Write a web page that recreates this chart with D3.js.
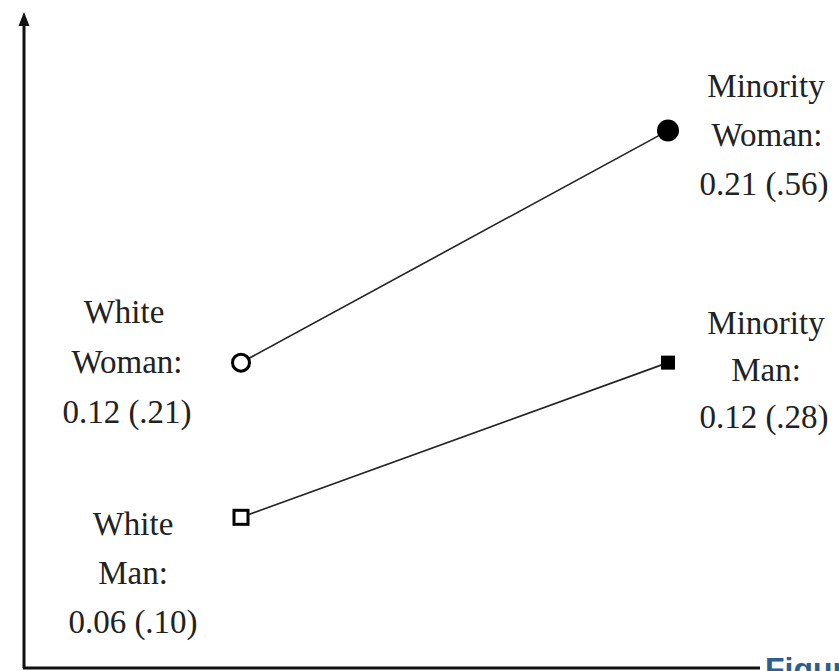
<!DOCTYPE html>
<html>
<head>
<meta charset="utf-8">
<script src="https://cdn.jsdelivr.net/npm/d3@7"></script>
<style>
  body { margin: 0; background: #fff; }
  svg { display: block; }
  .lbl { font-family: "Liberation Serif", "Times New Roman", serif; font-size: 33px; fill: #222; }
</style>
</head>
<body>
<script>
var w = 839;
var h = 671;

// data
var groups = ["White", "Minority"];
var genders = ["Woman", "Man"];
var womanValues = [0.12, 0.21];
var manValues = [0.06, 0.12];
var womanPaired = ["(.21)", "(.56)"];
var manPaired = ["(.10)", "(.28)"];

var xScale = d3.scalePoint()
    .domain(groups)
    .range([241, 668]);

var yScale = d3.scaleLinear()
    .domain([0, 0.256])
    .range([672, 12]);

var svg = d3.select("body")
    .append("svg")
    .attr("width", w)
    .attr("height", h);

// axes
var axisY = 668;
svg.append("line")
    .attr("x1", 24).attr("x2", 24)
    .attr("y1", axisY).attr("y2", yScale(0.256) + 10)
    .attr("stroke", "#111")
    .attr("stroke-width", 3);

svg.append("path")
    .attr("d", "M24," + yScale(0.256) + " L18.5," + (yScale(0.256) + 14) + " L29.5," + (yScale(0.256) + 14) + " Z")
    .attr("fill", "#111");

svg.append("line")
    .attr("x1", 23).attr("x2", 760)
    .attr("y1", axisY).attr("y2", axisY)
    .attr("stroke", "#111")
    .attr("stroke-width", 3);

var series = [
  { gender: "Woman", values: womanValues, paired: womanPaired },
  { gender: "Man", values: manValues, paired: manPaired }
];

// connecting lines
series.forEach(function(s) {
  svg.append("line")
    .attr("x1", xScale(groups[0]))
    .attr("y1", yScale(s.values[0]))
    .attr("x2", xScale(groups[1]))
    .attr("y2", yScale(s.values[1]))
    .attr("stroke", "#222")
    .attr("stroke-width", 1.6);
});

// markers
series.forEach(function(s) {
  groups.forEach(function(g, i) {
    var cx = xScale(g), cy = yScale(s.values[i]);
    var filled = (g === "Minority");
    if (s.gender === "Woman") {
      svg.append("circle")
        .attr("cx", cx).attr("cy", cy)
        .attr("r", filled ? 11 : 8.5)
        .attr("fill", filled ? "#000" : "#fff")
        .attr("stroke", "#000")
        .attr("stroke-width", filled ? 0 : 3);
    } else {
      var sz = 14;
      svg.append("rect")
        .attr("x", cx - sz / 2).attr("y", cy - sz / 2)
        .attr("width", sz).attr("height", sz)
        .attr("fill", filled ? "#000" : "#fff")
        .attr("stroke", "#000")
        .attr("stroke-width", filled ? 0 : 3);
    }
  });
});

// labels
function block(cx, baseline, lines, offsets, gap) {
  var t = svg.append("g");
  lines.forEach(function(txt, i) {
    t.append("text")
      .attr("class", "lbl")
      .attr("x", cx + (offsets ? offsets[i] : 0))
      .attr("y", baseline + i * gap)
      .attr("text-anchor", "middle")
      .text(txt);
  });
}

function fmt(v) { return d3.format(".2f")(v); }

// white woman: middle line level with the marker
block(xScale("White") - 114, yScale(womanValues[0]) - 40,
  ["White", "Woman:", fmt(womanValues[0]) + " " + womanPaired[0]], [-3, 0, 0], 50);
// white man: first line level with the marker
block(xScale("White") - 108, yScale(manValues[0]) + 18,
  ["White", "Man:", fmt(manValues[0]) + " " + manPaired[0]], null, 49);
// minority woman
block(xScale("Minority") + 98, yScale(womanValues[1]) - 34,
  ["Minority", "Woman:", fmt(womanValues[1]) + " " + womanPaired[1]], [0, 1, -2], 49);
// minority man
block(xScale("Minority") + 98, yScale(manValues[1]) - 29,
  ["Minority", "Man:", fmt(manValues[1]) + " " + manPaired[1]], [0, 0, -2], 47);

// caption in the corner, cut off by the page edge as in the source
svg.append("text")
    .attr("x", 765)
    .attr("y", 680)
    .attr("font-family", "Liberation Sans, Arial, sans-serif")
    .attr("font-weight", "bold")
    .attr("font-size", 32)
    .attr("fill", "#2b5f8e")
    .text("Figure 1");
</script>
</body>
</html>
